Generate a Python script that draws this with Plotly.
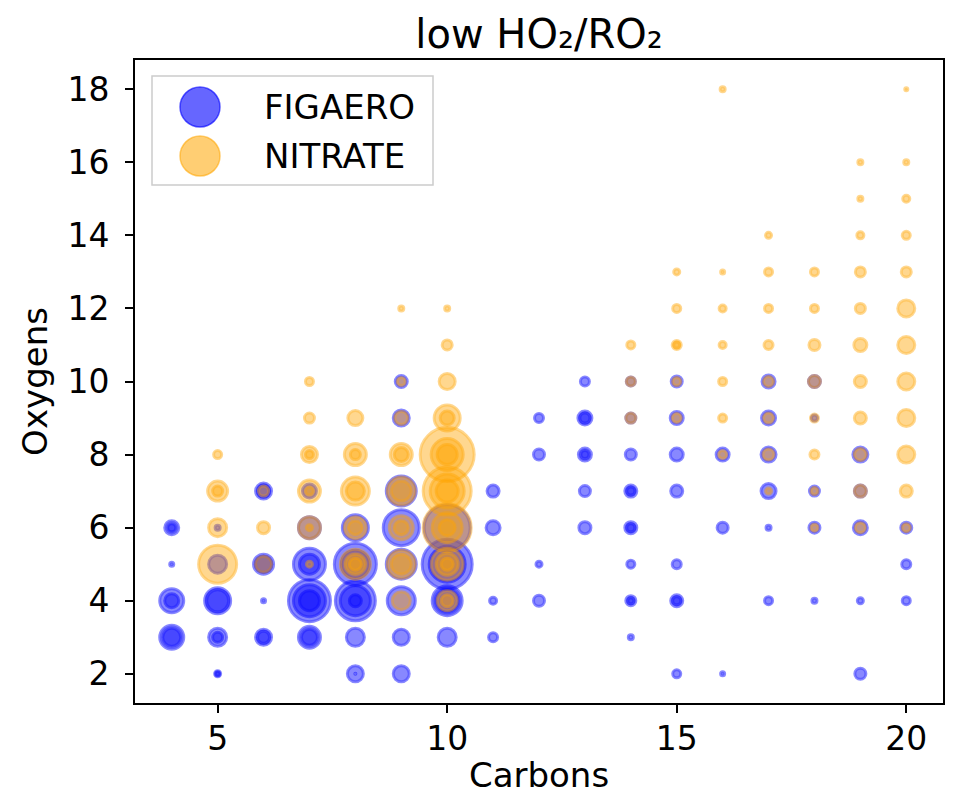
import plotly.graph_objects as go

# ---------------- data ----------------
# FIGAERO: carbons, oxygens, relative bubble size (several compounds may share one C/O cell)
figaero_c = [4, 4, 4, 4, 4, 4, 4,
             5, 5, 5, 5, 5, 5, 5, 5,
             6, 6, 6, 6, 6, 6, 6,
             7, 7, 7, 7, 7, 7, 7, 7, 7,
             8, 8, 8, 8, 8, 8, 8, 8, 8,
             9, 9, 9, 9, 9, 9, 9, 9,
             10, 10, 10, 10, 10, 10,
             11, 11, 11, 11,
             12, 12, 12, 12,
             13, 13, 13, 13, 13, 13, 13,
             14, 14, 14, 14, 14, 14, 14, 14, 14, 14, 14,
             15, 15, 15, 15, 15, 15, 15, 15,
             16, 16, 16,
             17, 17, 17, 17, 17, 17,
             18, 18, 18, 18, 18,
             19, 19, 19, 19, 19,
             20, 20, 20]
figaero_o = [6, 6, 5, 4, 4, 3, 3,
             6, 5, 4, 4, 3, 3, 2, 2,
             7, 7, 5, 5, 4, 3, 3,
             7, 6, 5, 5, 4, 4, 4, 3, 3,
             6, 5, 5, 4, 4, 4, 3, 2, 2,
             10, 9, 7, 6, 5, 4, 3, 2,
             6, 5, 5, 4, 4, 3,
             7, 6, 4, 3,
             9, 8, 5, 4,
             10, 9, 9, 8, 8, 7, 6,
             10, 9, 8, 7, 7, 6, 6, 5, 4, 4, 3,
             10, 9, 8, 7, 5, 4, 4, 2,
             8, 6, 2,
             10, 9, 8, 7, 6, 4,
             10, 9, 7, 6, 4,
             8, 7, 6, 4, 2,
             6, 5, 4]
figaero_s = [14, 8, 4, 24, 14, 24, 18,
             5, 18, 26, 22, 18, 10, 6, 4,
             16, 12, 20, 16, 4, 16, 12,
             14, 22, 32, 20, 42, 32, 20, 22, 16,
             26, 42, 28, 40, 30, 12, 18, 16, 1,
             12, 16, 30, 36, 30, 28, 16, 16,
             46, 50, 36, 30, 24, 18,
             12, 14, 7, 9,
             9, 11, 6, 11,
             9, 14, 10, 13, 8, 11, 12,
             9, 10, 11, 12, 8, 12, 8, 8, 10, 6, 5,
             11, 13, 13, 12, 9, 12, 8, 8,
             13, 11, 4,
             13, 14, 15, 15, 5, 8,
             12, 6, 10, 11, 5,
             15, 12, 14, 6, 11,
             11, 9, 8]

# NITRATE
nitrate_c = [5, 5, 5, 5, 5,
             6, 6, 6,
             7, 7, 7, 7, 7, 7, 7, 7, 7,
             8, 8, 8, 8, 8, 8, 8, 8, 8, 8,
             9, 9, 9, 9, 9, 9, 9, 9, 9, 9, 9, 9,
             10, 10, 10, 10, 10, 10, 10, 10, 10, 10, 10, 10, 10, 10, 10, 10, 10, 10, 10,
             14, 14, 14,
             15, 15, 15, 15, 15, 15,
             16, 16, 16, 16, 16, 16, 16,
             17, 17, 17, 17, 17, 17, 17, 17,
             18, 18, 18, 18, 18, 18, 18, 18,
             19, 19, 19, 19, 19, 19, 19, 19, 19, 19, 19,
             20, 20, 20, 20, 20, 20, 20, 20, 20, 20, 20, 20]
nitrate_o = [8, 7, 7, 6, 5,
             7, 6, 5,
             10, 9, 8, 8, 7, 7, 6, 6, 5,
             9, 8, 8, 7, 7, 6, 6, 5, 5, 5,
             12, 10, 9, 8, 8, 7, 7, 6, 6, 5, 5, 4,
             12, 11, 10, 9, 9, 8, 8, 8, 7, 7, 7, 6, 6, 6, 5, 5, 5, 4, 4,
             11, 10, 9,
             13, 12, 11, 11, 10, 9,
             18, 13, 12, 11, 10, 9, 8,
             14, 13, 12, 11, 10, 9, 8, 7,
             13, 12, 11, 10, 9, 8, 7, 6,
             16, 15, 14, 13, 12, 11, 10, 9, 8, 7, 6,
             18, 16, 15, 14, 13, 12, 11, 10, 9, 8, 7, 6]
nitrate_s = [8, 20, 10, 18, 38,
             10, 12, 16,
             8, 10, 16, 8, 22, 8, 22, 6, 6,
             15, 22, 10, 28, 18, 22, 14, 30, 20, 12,
             5, 8, 13, 22, 14, 28, 20, 24, 14, 28, 20, 18,
             5, 10, 16, 26, 14, 54, 32, 20, 48, 34, 22, 48, 30, 16, 32, 22, 12, 20, 12,
             8, 9, 10,
             6, 8, 9, 6, 8, 9,
             5, 4, 7, 7, 8, 8, 8,
             6, 8, 8, 9, 10, 10, 11, 6,
             8, 8, 11, 12, 8, 9, 7, 7,
             5, 5, 7, 10, 10, 13, 12, 12, 12, 12, 10,
             3, 5, 7, 8, 10, 17, 17, 17, 17, 17, 12, 8]

series_names = ["FIGAERO", "NITRATE"]
x_ticks = [5, 10, 15, 20]
y_ticks = [2, 4, 6, 8, 10, 12, 14, 16, 18]
title_text = "low HO\u2082/RO\u2082"

# ---------------- styling ----------------
BLUE_FILL = "rgba(0,0,255,0.66)"
BLUE_LINE = "rgba(0,0,255,0.66)"
ORANGE_FILL = "rgba(255,165,0,0.62)"
ORANGE_LINE = "rgba(255,165,0,0.62)"
LEG_BLUE = "rgba(0,0,255,0.6)"
LEG_ORANGE = "rgba(255,165,0,0.55)"
FONT = "DejaVu Sans"
EDGE = 3

# the page body adds an 8 px offset; the figure is sized so the plot lands where the reference has it
OFF = 8
W, H = 953, 787
L, R, T, B = 127, 18, 52, 92
PW, PH = W - L - R, H - T - B

fig = go.Figure()
fig.add_trace(go.Scatter(
    x=figaero_c, y=figaero_o, mode="markers", name=series_names[0], showlegend=False,
    marker=dict(size=figaero_s, sizemode="diameter", color=BLUE_FILL,
                line=dict(color=BLUE_LINE, width=EDGE))))
fig.add_trace(go.Scatter(
    x=nitrate_c, y=nitrate_o, mode="markers", name=series_names[1], showlegend=False,
    marker=dict(size=nitrate_s, sizemode="diameter", color=ORANGE_FILL,
                line=dict(color=ORANGE_LINE, width=EDGE))))


def px_x(px):
    return (px - OFF - L) / PW


def px_y(py):
    return (H - B - (py - OFF)) / PH


# manual legend (matplotlib-like large handles)
shapes = [dict(type="rect", xref="paper", yref="paper",
               x0=px_x(152), x1=px_x(433), y0=px_y(185), y1=px_y(76),
               line=dict(color="#cccccc", width=1.5), fillcolor="rgba(255,255,255,0.8)",
               layer="above")]
annotations = []
for i, (name, fill) in enumerate([(series_names[0], LEG_BLUE),
                                  (series_names[1], LEG_ORANGE)]):
    cy = 107 + i * 49
    shapes.append(dict(type="circle", xref="paper", yref="paper",
                       xsizemode="pixel", ysizemode="pixel",
                       xanchor=px_x(200), yanchor=px_y(cy),
                       x0=-20, x1=20, y0=-20, y1=20,
                       fillcolor=fill, line=dict(color=fill, width=1.5), layer="above"))
    annotations.append(dict(text=name, xref="paper", yref="paper",
                            x=px_x(262), y=px_y(cy), xanchor="left", yanchor="middle",
                            showarrow=False, font=dict(family=FONT, size=34, color="black")))

axis_common = dict(showline=True, linecolor="black", linewidth=2, mirror=True,
                   ticks="outside", ticklen=8, tickwidth=2, tickcolor="black",
                   showgrid=False, zeroline=False, automargin=False,
                   tickfont=dict(family=FONT, size=33, color="black"))

fig.update_layout(
    width=W, height=H,
    margin=dict(l=L, r=R, t=T, b=B, autoexpand=False),
    paper_bgcolor="white", plot_bgcolor="white",
    title=dict(text=title_text, x=(L + PW / 2) / W, xanchor="center",
               y=1 - (34 - OFF) / H, yanchor="middle", yref="container",
               font=dict(family=FONT, size=40, color="black")),
    xaxis=dict(range=[3.2, 20.8], tickvals=x_ticks, ticktext=[str(v) for v in x_ticks],
               ticklabelstandoff=-3,
               title=dict(text="Carbons", font=dict(family=FONT, size=34, color="black"), standoff=9),
               **axis_common),
    yaxis=dict(range=[1.2, 18.8], tickvals=y_ticks, ticktext=[str(v) for v in y_ticks],
               ticklabelstandoff=9,
               title=dict(text="Oxygens", font=dict(family=FONT, size=34, color="black"), standoff=10),
               **axis_common),
    shapes=shapes, annotations=annotations,
    showlegend=False,
)

fig.write_html("out.html")
